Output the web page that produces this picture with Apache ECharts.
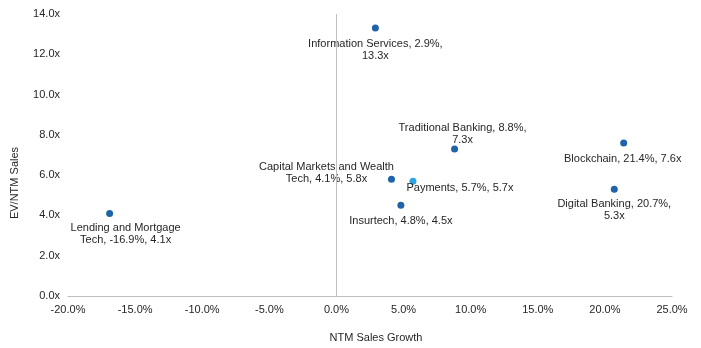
<!DOCTYPE html>
<html><head><meta charset="utf-8">
<script src="https://cdn.jsdelivr.net/npm/echarts@6/dist/echarts.min.js"></script>
<style>html,body{margin:0;padding:0;background:#fff}#c{width:701px;height:348px}</style>
</head><body><div id="c"></div>
<script>
const names = ["Information Services","Traditional Banking","Blockchain","Capital Markets and Wealth Tech","Payments","Digital Banking","Insurtech","Lending and Mortgage Tech"];
const labelTexts = ["Information Services, 2.9%,\n13.3x","Traditional Banking, 8.8%,\n7.3x","Blockchain, 21.4%, 7.6x","Capital Markets and Wealth\nTech, 4.1%, 5.8x","Payments, 5.7%, 5.7x","Digital Banking, 20.7%,\n5.3x","Insurtech, 4.8%, 4.5x","Lending and Mortgage\nTech, -16.9%, 4.1x"];
const growth = [2.9, 8.8, 21.4, 4.1, 5.7, 20.7, 4.8, -16.9];
const multiple = [13.3, 7.3, 7.6, 5.8, 5.7, 5.3, 4.5, 4.1];
const xTicks = [-20, -15, -10, -5, 0, 5, 10, 15, 20, 25];
const yTicks = [0, 2, 4, 6, 8, 10, 12, 14];

const labelOffsets = [[0,22],[8,-15],[-1,16],[-65,-6],[47,7],[0,21],[0,16],[16,21]];
const SYM = 7;
const data = names.map((n,i)=>({
  name: n,
  value: [growth[i], multiple[i]],
  itemStyle: {color: n === "Payments" ? "#2EA3E3" : "#1F64A8", opacity: 1},
  label: {
    show: true,
    formatter: labelTexts[i],
    position: [SYM/2 + labelOffsets[i][0], SYM/2 + labelOffsets[i][1]],
    align: 'center', verticalAlign: 'middle'
  }
}));

const txt = '#262626';
const chart = echarts.init(document.getElementById('c'));
chart.setOption({
  animation: false,
  grid: {left: 68, right: 29, top: 14, bottom: 52, containLabel: false},
  xAxis: {
    type: 'value', min: xTicks[0], max: xTicks[xTicks.length-1], interval: 5,
    name: 'NTM Sales Growth', nameLocation: 'middle', nameGap: 36,
    nameTextStyle: {color: txt, fontSize: 11, fontFamily: 'Liberation Sans, Arial', padding: [0,0,0,12]},
    axisLine: {show: true, onZero: false, lineStyle: {color: '#BFBFBF', width: 1}},
    axisTick: {show: false},
    splitLine: {show: false},
    axisLabel: {color: txt, fontSize: 11, fontFamily: 'Liberation Sans, Arial', margin: 8,
      formatter: v => v.toFixed(1) + '%'}
  },
  yAxis: {
    type: 'value', min: yTicks[0], max: yTicks[yTicks.length-1], interval: 2,
    name: 'EV/NTM Sales', nameLocation: 'middle', nameGap: 48, nameRotate: 90,
    nameTextStyle: {color: txt, fontSize: 11, fontFamily: 'Liberation Sans, Arial', padding: [0,56,0,0]},
    axisLine: {show: false},
    axisTick: {show: false},
    splitLine: {show: false},
    axisLabel: {color: txt, fontSize: 11, fontFamily: 'Liberation Sans, Arial', margin: 8,
      formatter: v => v.toFixed(1) + 'x'}
  },
  series: [{
    type: 'scatter',
    symbolSize: SYM,
    data: data,
    label: {color: txt, fontSize: 11, fontFamily: 'Liberation Sans, Arial', lineHeight: 12},
    markLine: {
      silent: true, symbol: ['none','none'],
      label: {show: false},
      lineStyle: {color: '#BFBFBF', type: 'solid', width: 1},
      data: [{xAxis: 0}]
    }
  }]
});
</script></body></html>
